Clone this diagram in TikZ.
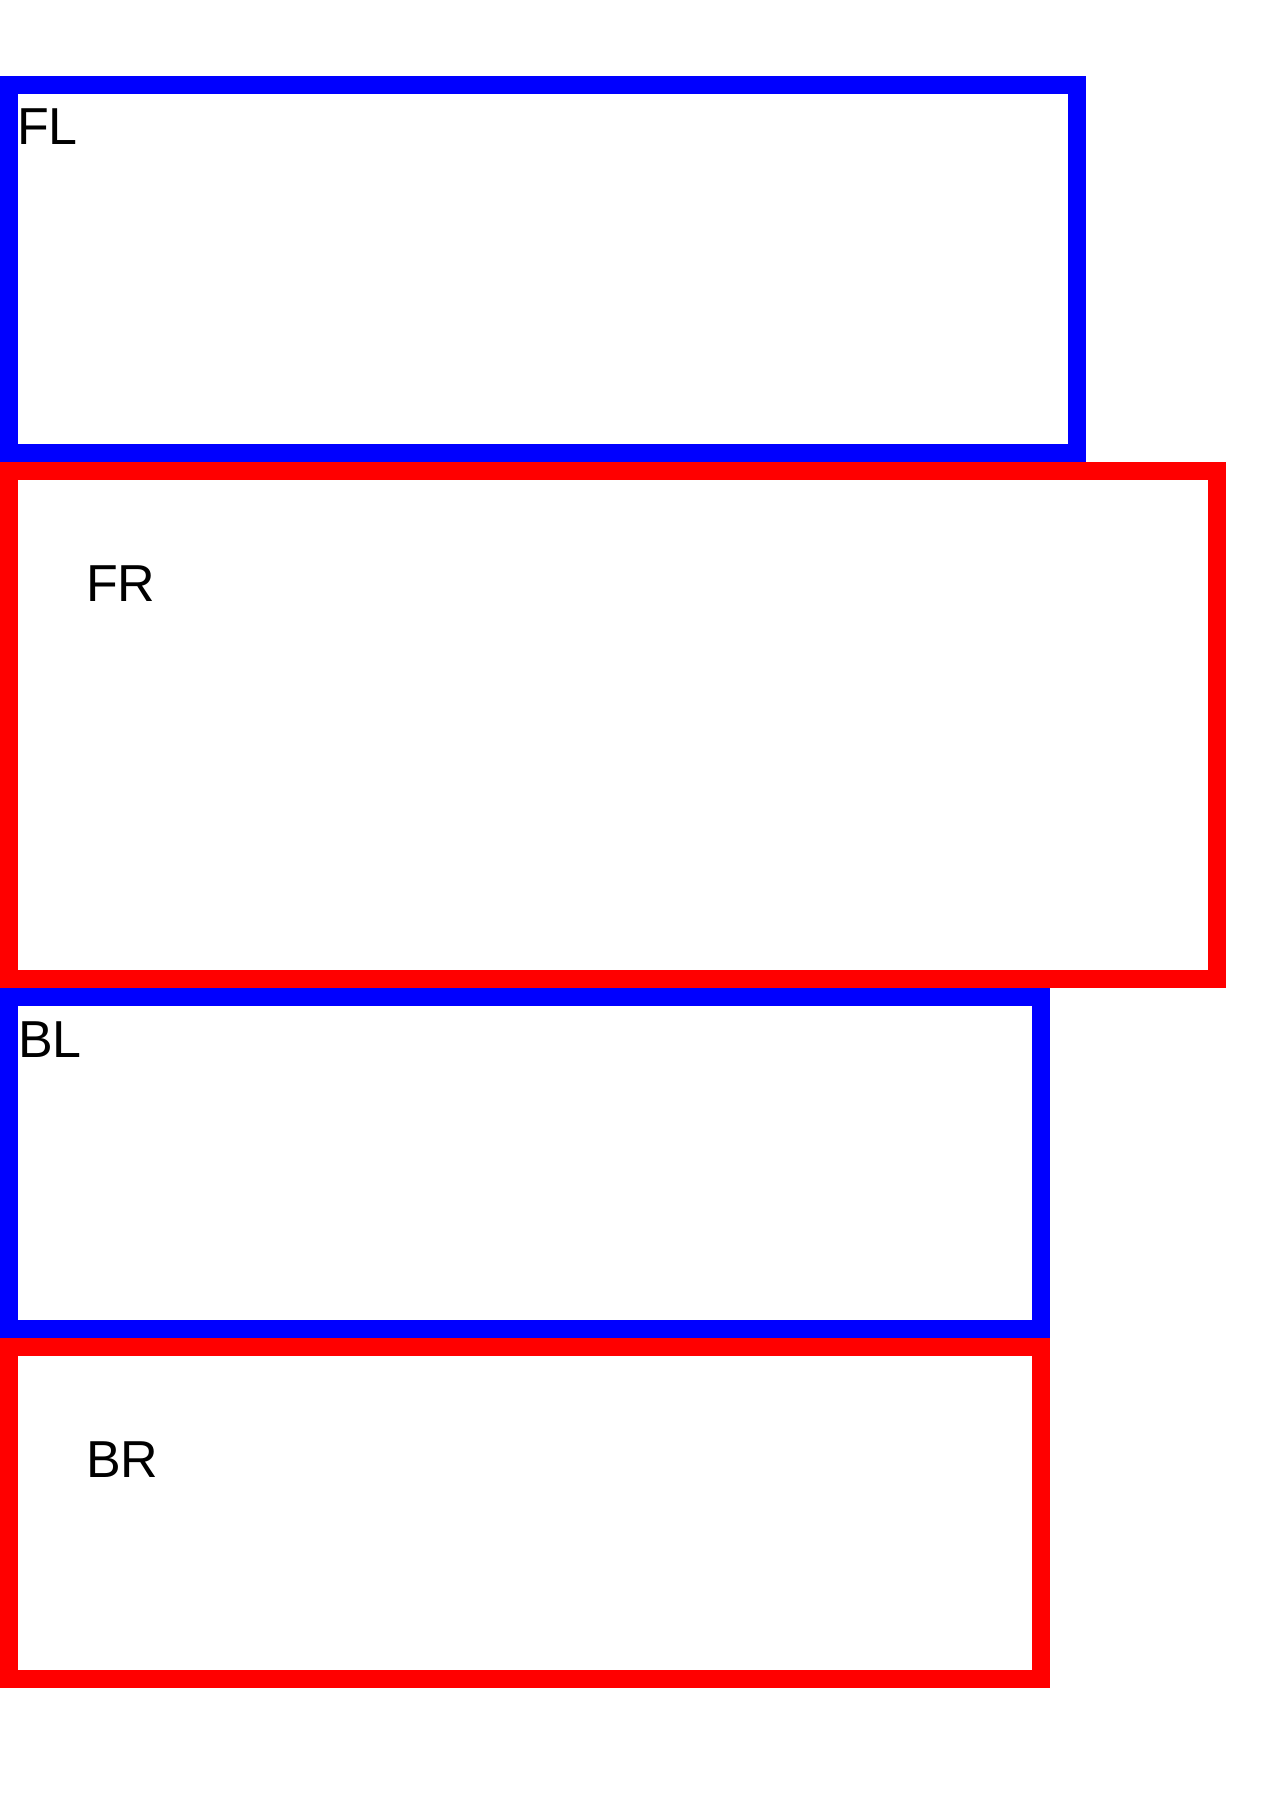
\documentclass[tikz,border=0pt]{standalone}
\usepackage{fontspec}
\setmainfont{Liberation Sans}
\usepackage{tikz}
\usetikzlibrary{positioning}

\tikzset{
  frame/.style={line width=18pt},
  lbl/.style={anchor=base west, inner sep=0pt, font=\fontsize{52}{60}\selectfont}
}

\begin{document}
\begin{tikzpicture}[x=1pt, y=-1pt]
\useasboundingbox (0,0) rectangle (1265,1795);
% vorne links
\coordinate (fla) at (9,85);
\coordinate (flb) at (1077,453);
\draw[frame, blue] (fla) rectangle (flb);
\node[lbl] (fl) at (17,145) {FL};
% vorne rechts
\coordinate (fra) at (9,471);
\coordinate (frb) at (1217,979);
\draw[frame, red] (fra) rectangle (frb);
\node[lbl] (fr) at (86,601) {FR};
% hinten links
\coordinate (bla) at (9,997);
\coordinate (blb) at (1041,1329);
\draw[frame, blue] (bla) rectangle (blb);
\node[lbl] (bl) at (18,1057) {BL};
% hinten rechts
\coordinate (bra) at (9,1347);
\coordinate (brb) at (1041,1679);
\draw[frame, red] (bra) rectangle (brb);
\node[lbl] (br) at (86,1477) {BR};
\end{tikzpicture}
\end{document}
